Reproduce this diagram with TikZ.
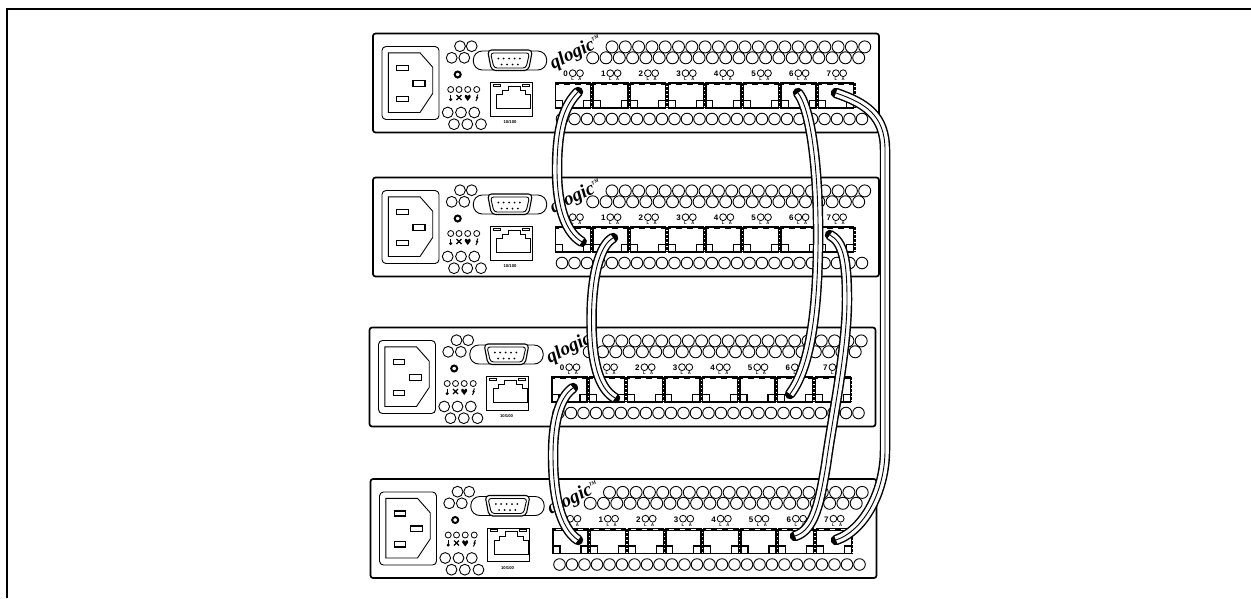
\documentclass[tikz,border=0pt]{standalone}
\usepackage{fontspec}
\setmainfont{Liberation Sans}
\newfontfamily\logofont{Liberation Serif}

%% one switch: name, left edge, top edge
\def\switchunit#1#2#3{%
\begin{scope}[shift={(#2,#3)}]
  \draw[unitline] (0,0) rectangle (506,99);

  %% ── Power inlet ──────────────────────────────────────────────
  \draw[thinline, rounded corners=4pt] (9,13) rectangle (66,86);
  \draw[thinline] (15.3,19.3) -- (47,19.3) -- (59.7,33.7) -- (59.7,60) -- (47,79) -- (15.3,79) -- cycle;
  \draw[pinline] (23.7,32) rectangle (35.3,37);
  \draw[pinline] (40,47) rectangle (52,52.7);
  \draw[pinline] (23.7,62.7) rectangle (35.3,68);

  %% ── Holes beside the inlet ───────────────────────────────────
  \foreach \x/\y in {87/12.7,98.7/12.7,78.7/24.3,91.3/24.3,74.7/79,88/79,101.3/79,81/90.7,94.3/90.7,108/90.7}{
    \draw[thinline] (\x,\y) circle (5.4pt);
  }
  \draw[line width=2pt] (84.7,41) circle (3pt);

  %% ── Status LEDs ──────────────────────────────────────────────
  \foreach \x in {77.7,86,94.7,103.7}{
    \draw[ledline] (\x,56) circle (3pt);
  }
  \fill (77.7,66) circle (1.7pt);
  \draw[line width=1.1pt] (77.7,61) -- (77.7,66);
  \draw[line width=1.3pt] (83.5,61.5) -- (88.5,66.5) (83.5,66.5) -- (88.5,61.5);
  \fill (94.7,67.5) -- (91.7,63.5) .. controls (91.7,60.5) and (94.2,60.5) .. (94.7,62.5)
        .. controls (95.2,60.5) and (97.7,60.5) .. (97.7,63.5) -- cycle;
  \draw[line width=1pt] (105,61) -- (103.6,64) -- (104.6,64) -- (102.8,67.5);

  %% ── Serial connector ─────────────────────────────────────────
  \draw[thinline, rounded corners=9pt, fill=white] (100.3,17.5) rectangle (173.7,36.5);
  \draw[pinline, rounded corners=4pt, fill=white] (114.5,16.5) -- (159.5,16.5) -- (155.5,37) -- (118.5,37) -- cycle;
  \draw[thinline, rounded corners=3pt] (117.5,19.5) -- (156.5,19.5) -- (153,34.5) -- (121,34.5) -- cycle;
  \foreach \i in {0,...,4}{
    \fill (125.3+\i*5.4,25) circle (1pt);
  }
  \foreach \i in {0,...,3}{
    \fill (128.7+\i*5.4,31) circle (1pt);
  }

  %% ── Network jack ─────────────────────────────────────────────
  \draw[thinline] (117,49.3) rectangle (159,82.7);
  \draw[thinline] (123.7,75.3) -- (123.7,61.3) -- (129.3,61.3) -- (129.3,57) -- (135.3,57) -- (135.3,52.7)
    -- (147,52.7) -- (147,57) -- (152.7,57) -- (152.7,61.3) -- (157.7,61.3) -- (157.7,75.3) -- cycle;
  \draw[ledline] (120,50.5) rectangle (127,52.5);
  \draw[ledline] (149,50.5) rectangle (156,52.5);
  \node[tinylabel] (#1speed) at (137,88.7) {10/100};

  %% ── Logo ─────────────────────────────────────────────────────
  \node[font=\logofont\bfseries\itshape\fontsize{19}{19}\selectfont, rotate=26, inner sep=0pt] (#1logo) at (203,19.5) {qlogic\raisebox{8pt}{\fontsize{5}{5}\selectfont TM}};

  %% ── Rows of holes ────────────────────────────────────────────
  \foreach \i in {0,...,19}{
    \draw[thinline] (239+\i*13.3,13.4) circle (6pt);
  }
  \foreach \i in {0,...,20}{
    \draw[thinline] (219.7+\i*13.3,24.3) circle (6pt);
  }
  \foreach \i in {0,...,24}{
    \draw[thinline] (189+\i*12.5,85.5) circle (5.8pt);
  }

  %% ── Ports ────────────────────────────────────────────────────
  \foreach \i in {0,...,7}{
    \begin{scope}[shift={(182.5+\i*37.6,0)}]
      \draw[portline] (0,49.5) rectangle (35,74.5);
      \draw[line width=2.6pt] (0,50.3) -- (35,50.3);
      \draw[white, line width=.6pt, dash pattern=on 5pt off 6pt] (3,50.6) -- (33,50.6);
      \draw[pinline] (0,67) rectangle (7,74.5);
      \draw[pinline] (28,67) rectangle (35,74.5);
      \draw[line width=1.2pt, dash pattern=on 3pt off 1pt] (36.3,49.5) -- (36.3,74.5);
      \node[numlabel] (#1num\i) at (10.2,40.3) {\i};
      \draw[ledline] (17.2,39.7) circle (3.4pt);
      \draw[ledline] (24.5,39.7) circle (3.4pt);
      \node[tinylabel] (#1l\i) at (17.2,46) {L};
      \node[tinylabel] (#1a\i) at (24.5,46) {A};
    \end{scope}
  }
\end{scope}
}

%% tube: outline, white body, centre line
\def\cable#1{%
  \draw[cableouter] #1;
  \draw[cableinner] #1;
  \draw[cablecore] #1;
}

\begin{document}
\begin{tikzpicture}[x=1pt, y=-1pt,
  unitline/.style={line width=1.7pt, rounded corners=2.5pt},
  thinline/.style={line width=.9pt},
  portline/.style={line width=1.4pt},
  pinline/.style={line width=1.1pt},
  ledline/.style={line width=.8pt},
  tinylabel/.style={font=\bfseries\fontsize{4.2}{4.2}\selectfont, inner sep=0pt},
  numlabel/.style={font=\bfseries\fontsize{8}{8}\selectfont, inner sep=0pt},
  cableouter/.style={line width=10.5pt, line cap=round},
  cableinner/.style={line width=7.6pt, white},
  cablecore/.style={line width=.9pt}]

\useasboundingbox (0,0) rectangle (1251,598);

%% ── Page rule ───────────────────────────────────────────────────
\draw[line width=2pt] (7,598) -- (7,9) -- (1251,9);

%% ── Switches ────────────────────────────────────────────────────
\switchunit{uA}{373}{33.5}
\switchunit{uB}{373}{177.5}
\switchunit{uC}{369.5}{327.5}
\switchunit{uD}{370.5}{479}

%% ── Cable ends ──────────────────────────────────────────────────
\coordinate (uAportz) at (578,92);
\coordinate (uBportz) at (581.7,241.7);
\coordinate (uBporta) at (613,238);
\coordinate (uCporta) at (615,398);
\coordinate (uCportz) at (573,388);
\coordinate (uDportz) at (578,540);
\coordinate (uAports) at (798,93);
\coordinate (uCports) at (790,394);
\coordinate (uAportv) at (836,93);
\coordinate (uDportv) at (836,540);
\coordinate (uBportv) at (830,235);
\coordinate (uDports) at (795,536);

%% ── Cables ──────────────────────────────────────────────────────
\cable{(uAportz) .. controls (565,105) and (557,125) .. (557,170) .. controls (557,205) and (565,232) .. (uBportz)}
\cable{(uBporta) .. controls (600,245) and (591.5,275) .. (591.5,320) .. controls (591.5,360) and (598,388) .. (uCporta)}
\cable{(uCportz) .. controls (560,397) and (553,420) .. (553,455) .. controls (553,495) and (560,528) .. (uDportz)}
\cable{(uAports) .. controls (808,105) and (817,150) .. (818,220) .. controls (819,300) and (812,365) .. (uCports)}
\cable{(uAportv) .. controls (865,103) and (885,115) .. (885,150) -- (885,450) .. controls (885,490) and (865,530) .. (uDportv)}
\cable{(uBportv) .. controls (843,242) and (847,260) .. (847,300) .. controls (847,350) and (832,420) .. (826,465) .. controls (820,500) and (815,530) .. (uDports)}

\end{tikzpicture}
\end{document}
